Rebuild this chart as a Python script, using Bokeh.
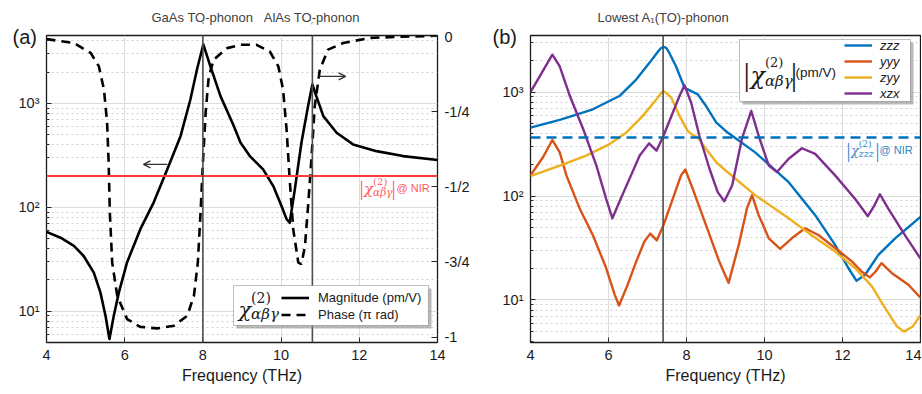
from bokeh.plotting import figure
from bokeh.layouts import row
from bokeh.models import (Range1d, LinearScale, LinearAxis, FixedTicker, Span, Label, Title,
                          Arrow, OpenHead, Legend, LegendItem, BoxAnnotation)
from bokeh.embed import file_html
from bokeh.resources import INLINE

# ---------------- data ----------------
freq_ticks = [4, 6, 8, 10, 12, 14]

# panel (a): magnitude (pm/V)
mag_f = [4.00, 4.36, 4.70, 4.95, 5.21, 5.38, 5.51, 5.61, 5.72, 5.85, 6.06, 6.40, 6.74, 7.09,
         7.43, 7.68, 7.85, 8.01, 8.19, 8.45, 8.79, 8.96, 9.20, 9.54, 9.80, 10.01, 10.14,
         10.22, 10.35, 10.52, 10.69, 10.80, 10.90, 11.08, 11.42, 11.84, 12.44, 13.12, 14.00]
mag_v = [58, 51, 42.5, 34, 23.5, 15.1, 9.0, 5.4, 9.0, 15.1, 29.5, 61.6, 111, 232,
         486, 1090, 2130, 3690, 2280, 1175, 605, 420, 311, 232, 160, 103, 77,
         71, 148, 418, 943, 1520, 1175, 755, 522, 403, 347, 311, 285]

# panel (a): phase (pi rad)
ph_f = [4.00, 4.70, 5.13, 5.34, 5.47, 5.55, 5.59, 5.62, 5.68, 5.81, 6.06, 6.40, 6.83, 7.26,
        7.60, 7.77, 7.87, 7.94, 8.00, 8.07, 8.15, 8.28, 8.62, 8.96, 9.37, 9.71, 9.93,
        10.05, 10.14, 10.22, 10.31, 10.44, 10.52, 10.61, 10.69, 10.78, 10.86, 10.99,
        11.20, 11.59, 12.27, 13.12, 13.97]
ph_v = [-0.008, -0.021, -0.054, -0.099, -0.176, -0.287, -0.42, -0.586, -0.752, -0.863,
        -0.94, -0.966, -0.971, -0.962, -0.929, -0.863, -0.752, -0.586, -0.42, -0.253,
        -0.132, -0.076, -0.038, -0.027, -0.027, -0.049, -0.099, -0.176, -0.309, -0.475,
        -0.641, -0.752, -0.757, -0.697, -0.564, -0.398, -0.232, -0.11, -0.043, -0.021,
        -0.004, 0.0, 0.003]

nir_abg = 200          # |chi(2)_abg| @ NIR (pm/V)
gaas_to = 8.0          # THz
alas_to = 10.8         # THz
phase_ticks = [-1, -0.75, -0.5, -0.25, 0]
phase_tick_labels = ["-1", "-3/4", "-1/2", "-1/4", "0"]

# panel (b)
zzz_f = [4.0, 4.75, 5.60, 6.28, 6.71, 7.05, 7.27, 7.35, 7.41, 7.48, 7.56, 7.73, 7.95, 8.12,
         8.29, 8.50, 8.76, 9.01, 9.76, 10.62, 11.30, 11.81, 12.15, 12.36, 12.58, 12.92,
         13.35, 14.0]
zzz_v = [455, 541, 683, 916, 1320, 1910, 2460, 2655, 2720, 2655, 2380, 1770, 1100, 1020,
         950, 735, 510, 420, 263, 136, 65.5, 33.9, 20.3, 15.3, 17.5, 27.2, 39.2, 63]

yyy_f = [4.0, 4.32, 4.56, 4.75, 4.92, 5.26, 5.60, 5.94, 6.16, 6.27, 6.46, 6.71, 6.92, 7.07,
         7.24, 7.41, 7.65, 7.86, 7.97, 8.16, 8.50, 8.84, 9.08, 9.34, 9.55, 9.68, 9.85,
         10.11, 10.40, 10.70, 11.04, 11.38, 11.81, 12.24, 12.49, 12.70, 12.85, 13.00,
         13.26, 13.69, 14.0]
yyy_v = [158, 236, 346, 263, 158, 76, 42, 20.3, 11.2, 8.85, 13.1, 23.4, 36.5, 43.5,
         37.5, 52.5, 94.4, 158, 180, 117, 52.5, 23.4, 14.6, 33.9, 76, 102, 65.5,
         39.2, 31, 39.2, 49, 42.2, 31.6, 23.5, 18.8, 16.5, 18.8, 22.6,
         18.2, 14.0, 10.5]

zyy_f = [4.0, 4.75, 5.43, 6.03, 6.46, 6.88, 7.23, 7.35, 7.41, 7.48, 7.61, 7.82, 8.03, 8.16,
         8.29, 8.50, 8.76, 9.01, 9.76, 10.62, 11.21, 11.81, 12.32, 12.75, 13.09, 13.39,
         13.58, 13.81, 14.0]
zyy_v = [155, 196, 245, 316, 409, 590, 851, 980, 1020, 980, 884, 590, 424, 385,
         366, 284, 212, 175, 102, 61, 42, 29.2, 20.3, 13.6, 8.4, 5.6, 4.96, 5.6, 7.2]

xzx_f = [4.0, 4.24, 4.56, 4.75, 5.01, 5.35, 5.69, 5.94, 6.10, 6.28, 6.54, 6.80, 7.04, 7.23,
         7.41, 7.65, 7.82, 7.95, 8.12, 8.33, 8.59, 8.80, 8.97, 9.17, 9.42, 9.66, 9.85,
         10.11, 10.32, 10.62, 10.96, 11.30, 11.81, 12.32, 12.65, 12.82, 12.96, 13.17,
         13.60, 14.0]
xzx_v = [1000, 1420, 2290, 1770, 916, 441, 196, 94, 61, 88, 147, 245, 321, 273,
         380, 635, 916, 1160, 790, 380, 183, 109, 89, 126, 354, 658, 380,
         196, 170, 228, 288, 254, 158, 94, 64, 81.5, 104, 76,
         42, 25]

nir_zzz = 365          # |chi(2)_zzz| @ NIR (pm/V)
a1_to = 7.4            # THz

series_names = ["zzz", "yyy", "zyy", "xzx"]
series_colors = ["#0072BD", "#D95319", "#EDB120", "#7E2F8E"]

# ---------------- styling helpers ----------------
SANS = "Liberation Sans"
SERIF = "DejaVu Serif"
H = 392
TOP, BOTTOM = 33, 50
FRAME_H = H - TOP - BOTTOM


def lab(p, x, y, text, size, color="#1a1a1a", font=SANS, style="normal", align="left",
        baseline="middle", xu="screen", yu="screen"):
    p.add_layout(Label(x=x, y=y, x_units=xu, y_units=yu, text=text, text_font=font,
                       text_font_size=f"{size}px", text_font_style=style, text_color=color,
                       text_align=align, text_baseline=baseline))


def top_title(p, text, size, offset, standoff, valign, color="#1a1a1a"):
    p.add_layout(Title(text=text, align="left", offset=offset, standoff=standoff,
                       vertical_align=valign, text_font=SANS, text_font_size=f"{size}px",
                       text_font_style="normal", text_color=color), "above")


def chi(p, x, y, sub, color, big, small, sub_size, bars=True, bar_size=None, sup_dy=None):
    """|chi^(2)_sub| built from real text pieces, (x, y) = left / middle, screen units."""
    cx = x
    if bars:
        lab(p, cx, y, "|", bar_size, color=color, font="Liberation Serif")
        cx += bar_size * 0.22
    lab(p, cx, y - big * 0.1, "χ", big, color=color, font=SERIF, style="italic")
    sx = cx + big * 0.6
    lab(p, sx, y + (sup_dy if sup_dy is not None else big * 0.4), "(2)", small, color=color,
        font=SERIF)
    lab(p, sx, y - big * 0.3, sub, sub_size, color=color, font=SERIF, style="italic")
    end = sx + sub_size * 0.55 * len(sub) + 1
    if bars:
        lab(p, end, y, "|", bar_size, color=color, font="Liberation Serif")


def style(p):
    p.outline_line_color = "#1a1a1a"
    p.outline_line_width = 1.3
    p.outline_line_alpha = 1
    p.background_fill_color = "white"
    p.border_fill_color = "white"
    p.xgrid.grid_line_color = "#dcdcdc"
    p.ygrid.grid_line_color = "#dcdcdc"
    p.ygrid.minor_grid_line_color = "#cfcfcf"
    p.ygrid.minor_grid_line_dash = "2 3"
    for ax in p.axis:
        ax.axis_line_color = None
        ax.major_tick_in = 5
        ax.major_tick_out = 0
        ax.minor_tick_in = 3
        ax.minor_tick_out = 0
        ax.major_tick_line_color = "#262626"
        ax.minor_tick_line_color = "#262626"
        ax.major_label_text_font = SANS
        ax.major_label_text_font_size = "14.5px"
        ax.major_label_text_color = "#1a1a1a"
        ax.major_label_standoff = 7
    p.xaxis.ticker = FixedTicker(ticks=freq_ticks)
    p.xaxis.minor_tick_line_color = None
    p.xaxis.axis_label = "Frequency (THz)"
    p.xaxis.axis_label_text_font = SANS
    p.xaxis.axis_label_text_font_size = "16px"
    p.xaxis.axis_label_text_font_style = "normal"
    p.xaxis.axis_label_text_color = "#1a1a1a"
    p.xaxis.axis_label_standoff = 4
    lt = FixedTicker(ticks=[10, 100, 1000],
                     minor_ticks=[m * 10 ** e for e in range(0, 4) for m in range(2, 10)])
    p.left[0].ticker = lt
    p.ygrid.ticker = lt
    p.left[0].major_label_overrides = {10: "10¹", 100: "10²", 1000: "10³"}


# ---------------- panel (a) ----------------
ya = Range1d(5, 4500)
pa = figure(width=480, height=H, x_range=Range1d(4, 14), y_range=ya, y_axis_type="log",
            output_backend="svg", toolbar_location=None, min_border_left=46,
            min_border_right=43, min_border_top=TOP, min_border_bottom=BOTTOM)
pa.extra_y_ranges = {"phase": Range1d(-1.018, 0.004)}
pa.extra_y_scales = {"phase": LinearScale()}
style(pa)
rax = LinearAxis(y_range_name="phase", ticker=FixedTicker(ticks=phase_ticks),
                 major_label_overrides=dict(zip(phase_ticks, phase_tick_labels)),
                 axis_line_color=None, major_tick_in=6, major_tick_out=0,
                 minor_tick_line_color=None, major_tick_line_color="#262626",
                 major_label_text_font=SANS, major_label_text_font_size="14.5px",
                 major_label_text_color="#1a1a1a", major_label_standoff=7)
pa.add_layout(rax, "right")

pa.add_layout(Span(location=nir_abg, dimension="width", line_color="#ff3b3b", line_width=2))
mag_r = pa.line(mag_f, mag_v, line_color="black", line_width=2.6, line_join="round")
ph_r = pa.line(ph_f, ph_v, y_range_name="phase", line_color="black", line_width=2.6,
               line_dash="9 6")

top_a = ya.end * 10 ** (13 / 104.0)
for f in [gaas_to, alas_to]:
    pa.add_layout(Arrow(end=OpenHead(size=8, line_color="#4d4d4d", line_width=1.5),
                        x_start=f, y_start=ya.start, x_end=f, y_end=top_a,
                        line_color="#4d4d4d", line_width=1.6))

# texts above / left of the frame (titles are laid out outside the frame)
top_title(pa, "(a)", 20, -34, -25, "bottom")
top_title(pa, "GaAs TO-phonon" + "\u00a0" * 3 + "AlAs TO-phonon", 13, 105, 18, "top",
          color="#404040")

# direction arrows (magnitude <- , phase ->)
pa.add_layout(Arrow(end=OpenHead(size=7, line_color="#333", line_width=1.2), x_start=7.09,
                    y_start=259, x_end=6.48, y_end=259, line_color="#333", line_width=1.2))
pa.add_layout(Arrow(end=OpenHead(size=7, line_color="#333", line_width=1.2), x_start=10.96,
                    y_start=1820, x_end=11.65, y_end=1820, line_color="#333", line_width=1.2))

# NIR label
chi(pa, 313, 155, "αβγ", "#ff5a5a", 15, 10, 10.5, bars=True, bar_size=21)
lab(pa, 350, 155, "@ NIR", 11, color="#ff5a5a")

# legend (a)
pa.add_layout(BoxAnnotation(left=190, right=385, bottom=14, top=54, left_units="screen",
                            right_units="screen", top_units="screen", bottom_units="screen",
                            fill_color="#8c8c8c", fill_alpha=0.6, line_color=None))
pa.add_layout(BoxAnnotation(left=187, right=382, bottom=17, top=57, left_units="screen",
                            right_units="screen", top_units="screen", bottom_units="screen",
                            fill_color="white", fill_alpha=1, line_color="#333",
                            line_width=1))
leg_a = Legend(items=[LegendItem(label="Magnitude (pm/V)", renderers=[mag_r]),
                      LegendItem(label="Phase (π rad)", renderers=[ph_r])],
               location=(235, 19), padding=0, margin=0, spacing=0, label_standoff=9,
               glyph_width=28, glyph_height=17, label_height=17,
               border_line_color=None, background_fill_alpha=0,
               label_text_font=SANS, label_text_font_size="13px",
               label_text_color="#1a1a1a")
pa.add_layout(leg_a)
chi(pa, 192, 35, "αβγ", "#1a1a1a", 21, 14, 15, bars=False, sup_dy=10)

# ---------------- panel (b) ----------------
WB = 441
yb = Range1d(3.9, 3500)
pb = figure(width=WB, height=H, x_range=Range1d(4, 14), y_range=yb, y_axis_type="log",
            output_backend="svg", toolbar_location=None, min_border_left=50,
            min_border_right=1, min_border_top=TOP, min_border_bottom=BOTTOM)
style(pb)
R = WB - 50 - 1

pb.add_layout(Span(location=nir_zzz, dimension="width", line_color="#0072BD", line_width=2.4,
                   line_dash="10 6"))
rs = []
for fx, vy, c in zip([zzz_f, yyy_f, zyy_f, xzx_f], [zzz_v, yyy_v, zyy_v, xzx_v],
                     series_colors):
    rs.append(pb.line(fx, vy, line_color=c, line_width=2.4, line_join="round"))

top_b = yb.end * 10 ** (13 / 104.7)
pb.add_layout(Arrow(end=OpenHead(size=8, line_color="#4d4d4d", line_width=1.5),
                    x_start=a1_to, y_start=yb.start, x_end=a1_to, y_end=top_b,
                    line_color="#4d4d4d", line_width=1.6))
top_title(pb, "(b)", 20, -38, -25, "bottom")
top_title(pb, "Lowest A₁(TO)-phonon", 13, 67, 18, "top", color="#404040")

chi(pb, R - 74, 193, "zzz", "#2f86c8", 13, 9, 9.5, bars=True, bar_size=20)
lab(pb, R - 41, 193, "@ NIR", 11, color="#2f86c8")

pb.add_layout(BoxAnnotation(left=R - 178, right=R - 7, bottom=238, top=300,
                            left_units="screen", right_units="screen", top_units="screen",
                            bottom_units="screen", fill_color="#8c8c8c", fill_alpha=0.6,
                            line_color=None))
pb.add_layout(BoxAnnotation(left=R - 181, right=R - 10, bottom=241, top=303,
                            left_units="screen", right_units="screen", top_units="screen",
                            bottom_units="screen", fill_color="white", fill_alpha=1,
                            line_color="#333", line_width=1))
leg_b = Legend(items=[LegendItem(label=n, renderers=[r]) for n, r in zip(series_names, rs)],
               location=(R - 76, 241), padding=0, margin=0, spacing=0, label_standoff=8,
               glyph_width=28, glyph_height=16, label_height=16,
               border_line_color=None, background_fill_alpha=0,
               label_text_font=SANS, label_text_font_size="13px",
               label_text_font_style="italic", label_text_color="#1a1a1a")
pb.add_layout(leg_b)
chi(pb, R - 177, 269, "αβγ", "#1a1a1a", 24, 13, 15, bars=True, bar_size=32, sup_dy=11)
lab(pb, R - 125, 270, "(pm/V)", 13.5)

layout = row(pa, pb)
open("out.html", "w").write(file_html(layout, INLINE))
